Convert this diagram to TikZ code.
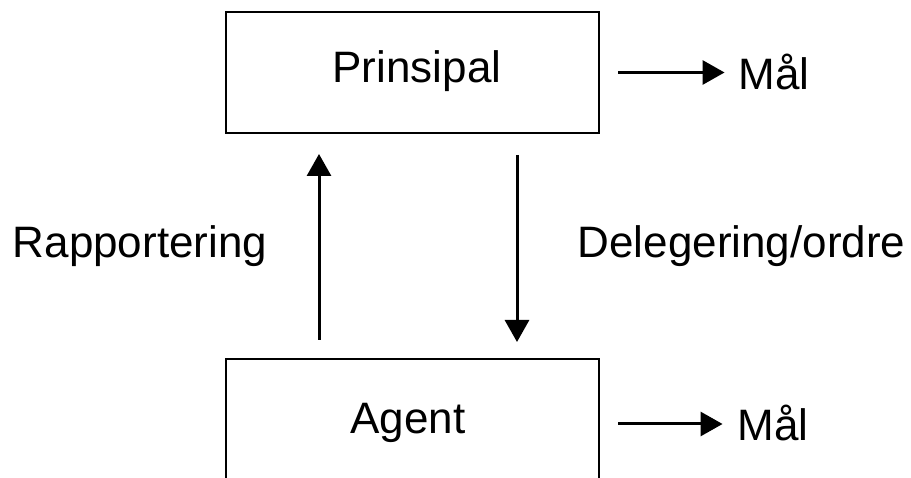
\documentclass[tikz,border=0pt]{standalone}
\usepackage{fontspec}
\setmainfont{Liberation Sans}
\usetikzlibrary{arrows.meta}
\tikzset{
  box/.style={draw=black, line width=2.7pt, fill=none, outer sep=0pt, inner sep=0pt, minimum width=373pt},
  arr/.style={draw=black, line width=3pt, -{Triangle[length=22pt,width=24pt]}},
  lbl/.style={inner sep=0pt, outer sep=0pt, anchor=base, font=\fontsize{44}{50}\selectfont, text=black}
}
\begin{document}
\begin{tikzpicture}[x=1pt,y=-1pt]
\clip (0,0) rectangle (911,478);
\fill[white] (0,0) rectangle (911,478);
% boxes
\node[box, minimum height=121pt] (prin) at (412.5,72.5) {};
\node[box, minimum height=130pt] (agent) at (412.5,424) {};
% texts
\node[lbl] (tprin) at (417,83) {Prinsipal};
\node[lbl] (tagent) at (408,433) {Agent};
\node[lbl] (rapp) at (140,258) {Rapportering};
\node[lbl] (deleg) at (741.5,258) {Delegering/ordre};
\node[lbl] (mal1) at (774,90) {Mål};
\node[lbl] (mal2) at (773,440) {Mål};
% connectors
\draw[arr, shorten <=19pt, shorten >=21pt] ([xshift=-93.5pt]agent.north) -- ([xshift=-93.5pt]prin.south);
\draw[arr, shorten <=22pt, shorten >=17pt] ([xshift=104.5pt]prin.south) -- ([xshift=104.5pt]agent.north);
\draw[arr, shorten <=19pt, shorten >=14pt] (prin.east) -- (prin.east -| mal1.west);
\draw[arr, shorten <=19pt, shorten >=15pt] (agent.east) -- (agent.east -| mal2.west);
\end{tikzpicture}
\end{document}
